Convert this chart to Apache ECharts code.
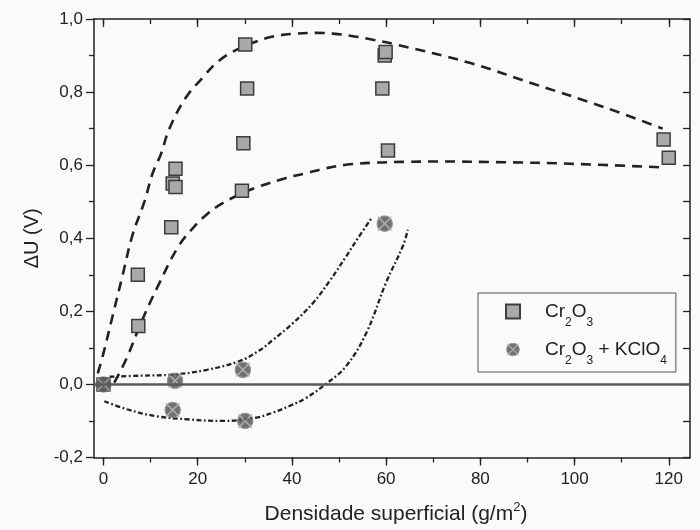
<!DOCTYPE html>
<html>
<head>
<meta charset="utf-8">
<script src="https://cdn.jsdelivr.net/npm/echarts@6/dist/echarts.min.js"></script>
<style>
  html, body { margin: 0; padding: 0; background: #fafafa; }
  #chart { width: 700px; height: 530px; }
</style>
</head>
<body>
<div id="chart"></div>
<script>
// tick positions
const xMajor = [0, 20, 40, 60, 80, 100, 120]
const xMinor = [0, 10, 20, 30, 40, 50, 60, 70, 80, 90, 100, 110, 120]

// measured points, Cr2O3
const crX = [0, 7.3, 7.4, 14.4, 15.3, 14.7, 15.3, 30.1, 30.5, 29.7, 29.4, 59.7, 59.9, 59.2, 60.4, 118.9, 120]
const crY = [0, 0.30, 0.16, 0.43, 0.59, 0.55, 0.54, 0.93, 0.81, 0.66, 0.53, 0.90, 0.91, 0.81, 0.64, 0.67, 0.62]

// measured points, Cr2O3 + KClO4
const kX = [0, 15.2, 14.7, 29.6, 30.1, 59.7]
const kY = [0, 0.01, -0.07, 0.04, -0.10, 0.44]

// fitted envelopes (dashed: Cr2O3, dash-dot: Cr2O3 + KClO4)
const upDashX = [-1.2, -0.1, 2, 4.1, 6.2, 8.7, 10.5, 12.2, 14, 17.5, 21.1, 24, 27.4, 31.7, 36, 40.9, 45, 48.7, 53, 57.2, 62.2, 77.7, 91.9, 106, 118.7]
const upDashY = [0.03, 0.08, 0.19, 0.30, 0.41, 0.50, 0.58, 0.63, 0.70, 0.785, 0.84, 0.88, 0.91, 0.935, 0.952, 0.96, 0.962, 0.96, 0.953, 0.943, 0.93, 0.88, 0.82, 0.76, 0.70]
const loDashX = [2.3, 4.8, 8.3, 11.9, 15.8, 19, 22, 25.3, 29.6, 33.1, 38.8, 43, 47, 51.5, 57.9, 64, 70.6, 85, 99, 118.5]
const loDashY = [0.005, 0.068, 0.178, 0.278, 0.375, 0.428, 0.466, 0.496, 0.524, 0.542, 0.565, 0.578, 0.591, 0.601, 0.607, 0.609, 0.61, 0.608, 0.604, 0.594]
const upDotX = [1.3, 8, 14.7, 22, 28.9, 33, 36, 40, 44.5, 48, 51.5, 54, 56.8]
const upDotY = [0.021, 0.024, 0.027, 0.040, 0.064, 0.092, 0.122, 0.165, 0.223, 0.283, 0.350, 0.400, 0.453]
const loDotX = [0.2, 5, 11.2, 18.3, 25.3, 32.4, 36, 39.5, 43, 47.3, 51.5, 55.8, 60, 63.6, 64.6]
const loDotY = [-0.046, -0.068, -0.087, -0.096, -0.10, -0.091, -0.077, -0.059, -0.037, 0.002, 0.05, 0.141, 0.279, 0.380, 0.423]

const zip = (xs, ys) => xs.map((x, i) => [x, ys[i]])
const FONT = "'Liberation Sans', Arial, sans-serif"
const INK = '#222'

const crossSvg = "<svg xmlns='http://www.w3.org/2000/svg' width='16' height='16' viewBox='0 0 16 16'>" +
  "<circle cx='8' cy='8' r='7.2' fill='#4f4f4f' stroke='#7a7a7a' stroke-width='1.2'/>" +
  "<path d='M1.6 1.6L14.4 14.4M14.4 1.6L1.6 14.4' stroke='#a0a0a0' stroke-width='1.3'/></svg>"
const crossSymbol = 'image://data:image/svg+xml;charset=utf-8,' + encodeURIComponent(crossSvg)

const chart = echarts.init(document.getElementById('chart'), null, { renderer: 'canvas' })

const xBase = { type: 'value', min: -2, max: 124.5, splitLine: { show: false } }
const yBase = { type: 'value', min: -0.2, max: 1.0, interval: 0.2, splitLine: { show: false } }
const axLine = { show: true, onZero: false, lineStyle: { color: INK, width: 1.5 } }
const tickStyle = { color: INK, width: 1.3 }

const fitLine = (name, xs, ys, dash, width) => ({
  name, type: 'line', data: zip(xs, ys), smooth: 0.4, showSymbol: false, silent: true, z: 2,
  lineStyle: { color: INK, width, type: dash },
})

chart.setOption({
  backgroundColor: '#fafafa',
  animation: false,
  grid: { left: 94, right: 10, top: 19, bottom: 71 },
  legend: {
    data: ['Cr2O3', 'Cr2O3 + KClO4'],
    orient: 'vertical', left: 478, top: 293,
    padding: [9, 9, 5, 27], itemGap: 11, itemWidth: 14, itemHeight: 14,
    borderColor: '#555', borderWidth: 1,
    formatter: name => name === 'Cr2O3'
      ? '{g| }{n|Cr}{s|2}{n|O}{s|3}'
      : '{g| }{n|Cr}{s|2}{n|O}{s|3}{n| + KClO}{s|4}',
    textStyle: {
      color: INK, fontFamily: FONT,
      rich: {
        g: { width: 20 },
        n: { fontSize: 19, fontFamily: FONT, color: INK },
        s: { fontSize: 12, fontFamily: FONT, color: INK, padding: [23, 0, 0, 0] },
      },
    },
  },
  xAxis: [
    {
      ...xBase, position: 'bottom',
      axisLine: axLine,
      axisTick: { customValues: xMajor, length: 8, lineStyle: tickStyle },
      axisLabel: { customValues: xMajor, margin: 13, fontSize: 17, fontFamily: FONT, color: INK },
      name: 'Densidade superficial (g/m{sup|2})',
      nameLocation: 'middle', nameGap: 43,
      nameTextStyle: {
        fontSize: 21, fontFamily: FONT, color: INK, padding: [0, 0, 0, 8],
        rich: { sup: { fontSize: 13, fontFamily: FONT, color: INK, padding: [0, 0, 15, 0] } },
      },
    },
    {
      ...xBase, position: 'bottom',
      axisLine: { show: false, onZero: false },
      axisTick: { customValues: xMinor, length: 5, lineStyle: tickStyle },
      axisLabel: { show: false },
    },
    {
      ...xBase, position: 'top',
      axisLine: axLine,
      axisTick: { customValues: xMajor, inside: true, length: 8, lineStyle: tickStyle },
      axisLabel: { show: false },
    },
    {
      ...xBase, position: 'top',
      axisLine: { show: false, onZero: false },
      axisTick: { customValues: xMinor, inside: true, length: 5, lineStyle: tickStyle },
      axisLabel: { show: false },
    },
  ],
  yAxis: [
    {
      ...yBase, position: 'left',
      axisLine: axLine,
      axisTick: { length: 8, lineStyle: tickStyle },
      minorTick: { show: true, splitNumber: 2, length: 5, lineStyle: tickStyle },
      axisLabel: {
        margin: 11, fontSize: 17, fontFamily: FONT, color: INK,
        formatter: v => v.toFixed(1).replace('.', ','),
      },
      name: 'ΔU (V)', nameLocation: 'middle', nameGap: 52,
      nameTextStyle: { fontSize: 20, fontFamily: FONT, color: INK },
    },
    {
      ...yBase, position: 'right',
      axisLine: axLine,
      axisTick: { inside: true, length: 7, lineStyle: tickStyle },
      minorTick: { show: true, splitNumber: 2, length: 7, lineStyle: tickStyle },
      axisLabel: { show: false },
    },
  ],
  series: [
    {
      ...fitLine('upDash', upDashX, upDashY, [10, 7], 2.6),
      markLine: {
        silent: true, symbol: 'none', label: { show: false },
        lineStyle: { color: '#585858', width: 2.5, type: 'solid' },
        data: [{ yAxis: 0 }],
      },
    },
    fitLine('loDash', loDashX, loDashY, [10, 7], 2.6),
    fitLine('upDot', upDotX, upDotY, [5, 2.5, 1.8, 2.5], 2.3),
    fitLine('loDot', loDotX, loDotY, [5, 2.5, 1.8, 2.5], 2.3),
    {
      name: 'Cr2O3', type: 'scatter', data: zip(crX, crY), z: 3,
      symbol: 'rect', symbolSize: 13,
      itemStyle: { color: '#a9a9a9', borderColor: '#3c3c3c', borderWidth: 1.5, opacity: 1 },
    },
    {
      name: 'Cr2O3 + KClO4', type: 'scatter', data: zip(kX, kY), z: 3,
      symbol: crossSymbol, symbolSize: 17,
    },
  ],
})
</script>
</body>
</html>
